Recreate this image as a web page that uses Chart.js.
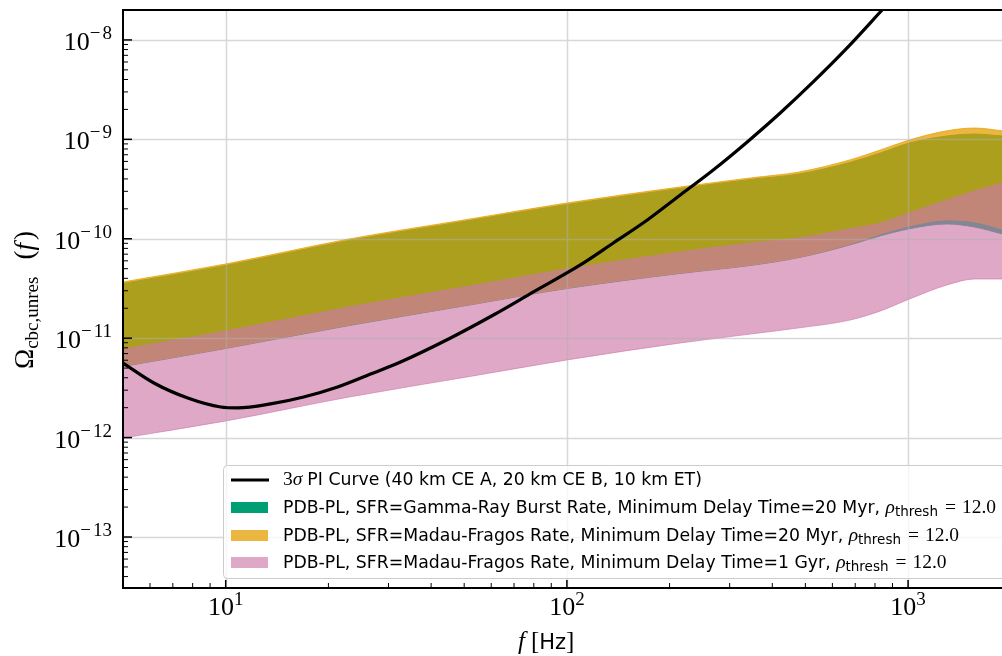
<!DOCTYPE html>
<html>
<head>
<meta charset="utf-8">
<script src="https://cdn.jsdelivr.net/npm/chart.js@4.4.1/dist/chart.umd.min.js"></script>
<style>
html, body { margin: 0; padding: 0; background: #fff; overflow: hidden; }
#wrap { width: 1002px; height: 656px; position: relative; }
</style>
</head>
<body>
<div id="wrap"><canvas id="omegaChart"></canvas></div>
<script>
// frequencies (Hz) shared by the three bands
const freq = [5, 10, 23, 52, 100, 215, 345, 480, 675, 830, 1010, 1300, 1570, 1885];

// PDB-PL, GRB rate, 20 Myr
const grbHigh = [3.55e-11, 5.39e-11, 9.61e-11, 1.53e-10, 2.21e-10, 3.21e-10, 3.95e-10, 4.49e-10, 5.86e-10, 7.30e-10, 9.20e-10, 1.08e-9, 1.13e-9, 1.08e-9];
const grbLow = [5.19e-12, 7.88e-12, 1.34e-11, 2.16e-11, 3.16e-11, 4.48e-11, 5.39e-11, 6.48e-11, 8.66e-11, 1.07e-10, 1.26e-10, 1.41e-10, 1.31e-10, 1.12e-10];
// PDB-PL, Madau-Fragos, 20 Myr
const mf20High = [3.68e-11, 5.58e-11, 9.95e-11, 1.58e-10, 2.29e-10, 3.32e-10, 4.09e-10, 4.70e-10, 6.21e-10, 7.82e-10, 9.86e-10, 1.22e-9, 1.30e-9, 1.22e-9];
const mf20Low = [5.25e-12, 7.97e-12, 1.36e-11, 2.18e-11, 3.20e-11, 4.53e-11, 5.45e-11, 6.56e-11, 8.87e-11, 1.12e-10, 1.35e-10, 1.55e-10, 1.48e-10, 1.26e-10];
// PDB-PL, Madau-Fragos, 1 Gyr
const mf1High = [7.78e-12, 1.18e-11, 2.06e-11, 3.35e-11, 4.97e-11, 7.37e-11, 9.07e-11, 1.02e-10, 1.26e-10, 1.44e-10, 1.82e-10, 2.46e-10, 3.03e-10, 3.64e-10];
const mf1Low = [9.9e-13, 1.47e-12, 2.56e-12, 4.12e-12, 6.04e-12, 8.95e-12, 1.10e-11, 1.27e-11, 1.52e-11, 1.88e-11, 2.48e-11, 3.43e-11, 3.94e-11, 3.94e-11];

// 3 sigma PI curve
const piFreq = [5, 6.16, 7.74, 9.67, 10.84, 13.54, 16.92, 21.28, 26.59, 32.54, 45.6, 60.9, 79.8, 109.5, 136.8, 172.1, 215, 268.5, 337.8, 421.9, 527.1, 662.8, 839.2, 980];
const piOmega = [5.63e-12, 3.54e-12, 2.50e-12, 2.03e-12, 1.99e-12, 2.18e-12, 2.56e-12, 3.23e-12, 4.36e-12, 5.76e-12, 1.005e-11, 1.71e-11, 2.92e-11, 5.45e-11, 9.07e-11, 1.545e-10, 2.76e-10, 4.92e-10, 9.42e-10, 1.84e-9, 3.78e-9, 8.31e-9, 2.0e-8, 3.57e-8];

const xTicks = [10, 100, 1000];
const yTicks = [1e-13, 1e-12, 1e-11, 1e-10, 1e-9, 1e-8];

const legendText = [
  "PI Curve (40 km CE A, 20 km CE B, 10 km ET)",
  "PDB-PL, SFR=Gamma-Ray Burst Rate, Minimum Delay Time=20 Myr, ",
  "PDB-PL, SFR=Madau-Fragos Rate, Minimum Delay Time=20 Myr, ",
  "PDB-PL, SFR=Madau-Fragos Rate, Minimum Delay Time=1 Gyr, "
];

const GREEN = "rgba(0,158,115,1)";
const ORANGE = "rgba(230,159,0,0.75)";
const PINK = "rgba(204,121,167,0.65)";

const SERIF = '"Liberation Serif", "DejaVu Serif", serif';
const SANS = '"DejaVu Sans", "Liberation Sans", sans-serif';

const pts = (xs, ys) => xs.map((x, i) => ({ x: x, y: ys[i] }));

function band(vals, color, fill, order) {
  return {
    data: pts(freq, vals),
    borderColor: color,
    backgroundColor: color,
    borderWidth: 1,
    pointRadius: 0,
    fill: fill,
    order: order,
    cubicInterpolationMode: "monotone"
  };
}

function drawRuns(ctx, parts, x, y) {
  for (const p of parts) {
    ctx.font = p.f;
    ctx.fillText(p.t, x, y + (p.dy || 0));
    x += ctx.measureText(p.t).width + (p.gap || 0);
  }
  return x;
}
function runsWidth(ctx, parts) {
  let w = 0;
  for (const p of parts) {
    ctx.font = p.f;
    w += ctx.measureText(p.t).width + (p.gap || 0);
  }
  return w;
}

function expParts(v, dy) {
  const n = Math.round(Math.log10(v));
  const parts = [{ t: "10", f: "26px " + SERIF }];
  if (n < 0) parts.push({ t: "\u2212", f: "19px " + SERIF, dy: dy, gap: 2 });
  parts.push({ t: String(Math.abs(n)), f: "19px " + SERIF, dy: dy });
  return parts;
}

const mplStyle = {
  id: "mplStyle",
  beforeDatasetDraw(chart, args) {
    if (args.index !== 0) return;
    // grid drawn over the bands but under the PI curve
    const { ctx, chartArea: a, scales } = chart;
    ctx.save();
    ctx.strokeStyle = "rgba(176,176,176,0.5)";
    ctx.lineWidth = 1.5;
    ctx.beginPath();
    xTicks.forEach(v => {
      const px = Math.round(scales.x.getPixelForValue(v)) + 0.5;
      ctx.moveTo(px, a.top); ctx.lineTo(px, a.bottom);
    });
    yTicks.forEach(v => {
      const py = Math.round(scales.y.getPixelForValue(v)) + 0.5;
      ctx.moveTo(a.left, py); ctx.lineTo(a.right, py);
    });
    ctx.stroke();
    ctx.restore();
  },
  afterDraw(chart) {
    const { ctx, chartArea: a, scales } = chart;
    const sx = scales.x, sy = scales.y;
    ctx.save();

    // spines
    ctx.strokeStyle = "#000";
    ctx.lineWidth = 2;
    ctx.beginPath();
    ctx.moveTo(a.right + 5, a.top); ctx.lineTo(a.left, a.top);
    ctx.lineTo(a.left, a.bottom); ctx.lineTo(a.right + 5, a.bottom);
    ctx.stroke();

    // ticks pointing inward
    const tick = (x1, y1, x2, y2, w) => {
      ctx.lineWidth = w;
      ctx.beginPath(); ctx.moveTo(x1, y1); ctx.lineTo(x2, y2); ctx.stroke();
    };
    for (let d = 1e-14; d < 1e-7; d *= 10) {
      for (let k = 1; k < 10; k++) {
        const v = d * k;
        if (v < sy.min || v > sy.max) continue;
        const py = sy.getPixelForValue(v);
        if (k === 1) tick(a.left, py, a.left + 9, py, 1.5);
        else tick(a.left, py, a.left + 5, py, 1);
      }
    }
    for (let d = 1; d < 1e4; d *= 10) {
      for (let k = 1; k < 10; k++) {
        const v = d * k;
        if (v < sx.min || v > sx.max) continue;
        const px = sx.getPixelForValue(v);
        if (k === 1) tick(px, a.bottom, px, a.bottom - 8, 1.5);
        else tick(px, a.bottom, px, a.bottom - 5, 1);
      }
    }

    // tick labels
    ctx.fillStyle = "#000";
    ctx.textBaseline = "alphabetic";
    ctx.textAlign = "left";
    yTicks.forEach(v => {
      const py = sy.getPixelForValue(v);
      const parts = expParts(v, -11);
      const w = runsWidth(ctx, parts);
      drawRuns(ctx, parts, a.left - 11 - w, py + 10);
    });
    xTicks.forEach(v => {
      const px = sx.getPixelForValue(v);
      const parts = expParts(v, -10);
      const w = runsWidth(ctx, parts);
      drawRuns(ctx, parts, px - w / 2, 615);
    });

    // x title
    drawRuns(ctx, [
      { t: "f", f: "italic 25px " + SERIF, gap: 6 },
      { t: "[", f: "25px " + SERIF },
      { t: "Hz", f: "21px " + SANS },
      { t: "]", f: "25px " + SERIF }
    ], 518, 649);

    // y title
    const yParts = [
      { t: "\u03a9", f: "27px " + SERIF },
      { t: "cbc,unres", f: "19px " + SERIF, dy: 5, gap: 17 },
      { t: "(", f: "27px " + SERIF },
      { t: "f", f: "italic 27px " + SERIF, gap: 3 },
      { t: ")", f: "27px " + SERIF }
    ];
    const yw = runsWidth(ctx, yParts);
    ctx.save();
    ctx.translate(33, 300 + yw / 2);
    ctx.rotate(-Math.PI / 2);
    drawRuns(ctx, yParts, 0, 0);
    ctx.restore();

    // legend
    const lx = 223, ly = 465, lw = 800, lh = 113;
    ctx.beginPath();
    ctx.roundRect(lx + 0.5, ly + 0.5, lw, lh, 4);
    ctx.fillStyle = "rgba(255,255,255,0.8)";
    ctx.fill();
    ctx.strokeStyle = "rgb(204,204,204)";
    ctx.lineWidth = 1;
    ctx.stroke();

    const rowBase = [485, 513, 541, 568];
    const patchColors = [null, GREEN, ORANGE, PINK];
    const fs = 17.3;
    rowBase.forEach((b, i) => {
      if (i === 0) {
        ctx.strokeStyle = "#000";
        ctx.lineWidth = 3.2;
        ctx.beginPath(); ctx.moveTo(231, b - 5); ctx.lineTo(269, b - 5); ctx.stroke();
      } else {
        ctx.fillStyle = patchColors[i];
        ctx.fillRect(231, b - 11, 37, 11);
      }
      ctx.fillStyle = "#000";
      let parts;
      if (i === 0) {
        parts = [
          { t: "3", f: "19.5px " + SERIF },
          { t: "\u03c3", f: "italic 19.5px " + SERIF, gap: 5 },
          { t: legendText[0], f: fs + "px " + SANS }
        ];
      } else {
        parts = [
          { t: legendText[i], f: fs + "px " + SANS },
          { t: "\u03c1", f: "italic 19.5px " + SERIF },
          { t: "thresh", f: "13.5px " + SANS, dy: 3, gap: 7 },
          { t: "=", f: "19.5px " + SERIF, gap: 6 },
          { t: "12.0", f: "19.5px " + SERIF }
        ];
      }
      drawRuns(ctx, parts, 283, b);
    });

    ctx.restore();
  }
};

new Chart(document.getElementById("omegaChart"), {
  type: "line",
  data: {
    datasets: [
      {
        data: pts(piFreq, piOmega),
        borderColor: "#000",
        borderWidth: 3.2,
        pointRadius: 0,
        fill: false,
        order: 0,
        cubicInterpolationMode: "monotone"
      },
      band(mf1High, PINK, "+1", 1),
      band(mf1Low, PINK, false, 1),
      band(mf20High, ORANGE, "+1", 2),
      band(mf20Low, ORANGE, false, 2),
      band(grbHigh, GREEN, "+1", 3),
      band(grbLow, GREEN, false, 3)
    ]
  },
  options: {
    responsive: true,
    maintainAspectRatio: false,
    animation: false,
    layout: { padding: { left: 123, right: 0, top: 10, bottom: 68 } },
    plugins: { legend: { display: false }, tooltip: { enabled: false } },
    scales: {
      x: { type: "logarithmic", min: 5, max: 1885, display: false, bounds: "data" },
      y: { type: "logarithmic", min: 3.07e-14, max: 2e-8, display: false, bounds: "data" }
    }
  },
  plugins: [mplStyle]
});
</script>
</body>
</html>
